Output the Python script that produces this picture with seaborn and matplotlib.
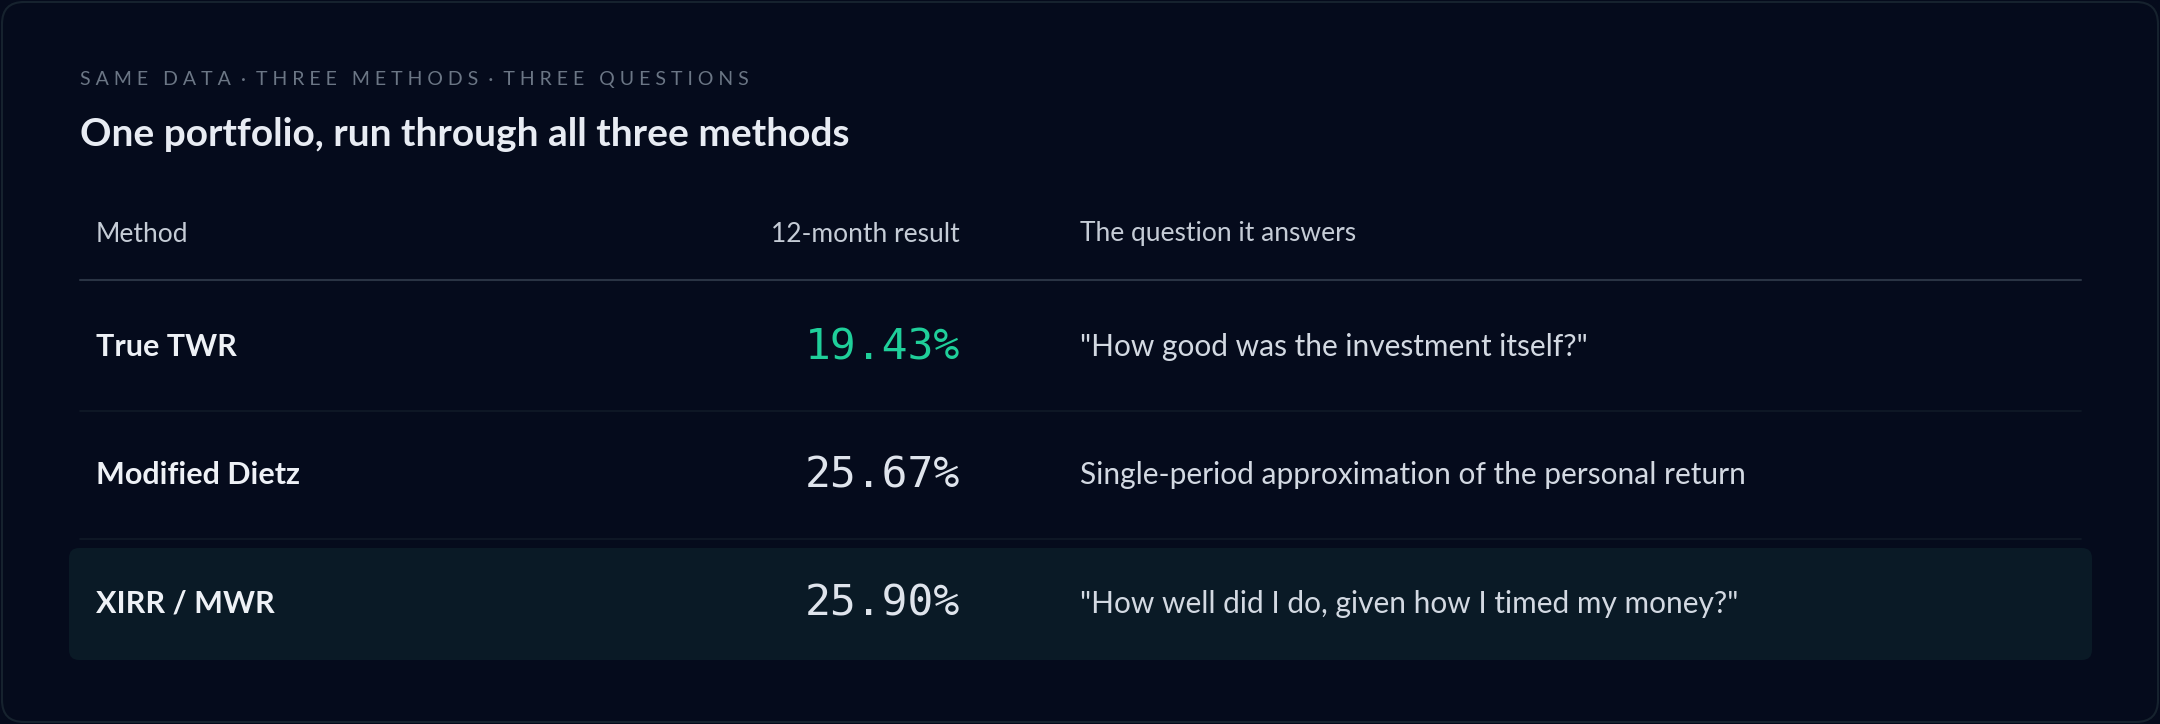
import matplotlib
matplotlib.use('Agg')
import matplotlib.pyplot as plt
from matplotlib.patches import FancyBboxPatch
import seaborn as sns
import pandas as pd

methods = ['True TWR', 'Modified Dietz', 'XIRR / MWR']
results = [19.43, 25.67, 25.90]
questions = ['"How good was the investment itself?"',
             'Single-period approximation of the personal return',
             '"How well did I do, given how I timed my money?"']
headers = ['Method', '12-month result', 'The question it answers']

df = pd.DataFrame({'method': methods, 'result': results, 'question': questions})

sns.set_theme(style='white')
plt.rcParams['font.family'] = ['Lato', 'DejaVu Sans']

bg = '#050b1c'
fig = plt.figure(figsize=(21.6, 7.24), dpi=100, facecolor=bg)
ax = fig.add_axes([0, 0, 1, 1])
ax.set_facecolor(bg)
ax.set_xlim(0, 2160)
ax.set_ylim(724, 0)
ax.axis('off')

# card outline
ax.add_patch(FancyBboxPatch((2, 2), 2156, 720, boxstyle='round,pad=0,rounding_size=22',
                            fc=bg, ec='#16222e', lw=1.5, zorder=-2))

ax.text(80, 80, 'S A M E   D A T A  ·  T H R E E   M E T H O D S  ·  T H R E E   Q U E S T I O N S',
        color='#6b7685', fontsize=14, va='center', ha='left')
ax.text(80, 134, 'One portfolio, run through all three methods', color='#e8ecf3',
        fontsize=28, fontweight='bold', va='center', ha='left')

hy = 234
ax.text(96, hy, headers[0], color='#c5ccd6', fontsize=19, va='center')
ax.text(960, hy, headers[1], color='#c5ccd6', fontsize=19, va='center', ha='right')
ax.text(1080, hy, headers[2], color='#c5ccd6', fontsize=19, va='center')
ax.plot([80, 2081], [280, 280], color='#2a3444', lw=1.5)

row_y = [347, 475, 604]
row_h = 128
for i, r in df.iterrows():
    y = row_y[i]
    if i == len(df) - 1:
        ax.add_patch(FancyBboxPatch((69, y - 56), 2023, 112, boxstyle='round,pad=0,rounding_size=10',
                                    fc='#0a1a26', ec='none', zorder=0))
    else:
        ax.plot([80, 2081], [y + row_h / 2, y + row_h / 2], color='#111a28', lw=1.2)
    ax.text(96, y, r['method'], color='#eef1f6', fontsize=22, fontweight='bold', va='center')
    ax.text(960, y, f"{r['result']:.2f}%", color='#1fcf9a' if i == 0 else '#dfe4ec',
            fontsize=31, family='DejaVu Sans Mono', va='center', ha='right')
    ax.text(1080, y, r['question'], color='#d3d9e2', fontsize=21.5, va='center')

fig.savefig('out.png', dpi=100, facecolor=bg)
